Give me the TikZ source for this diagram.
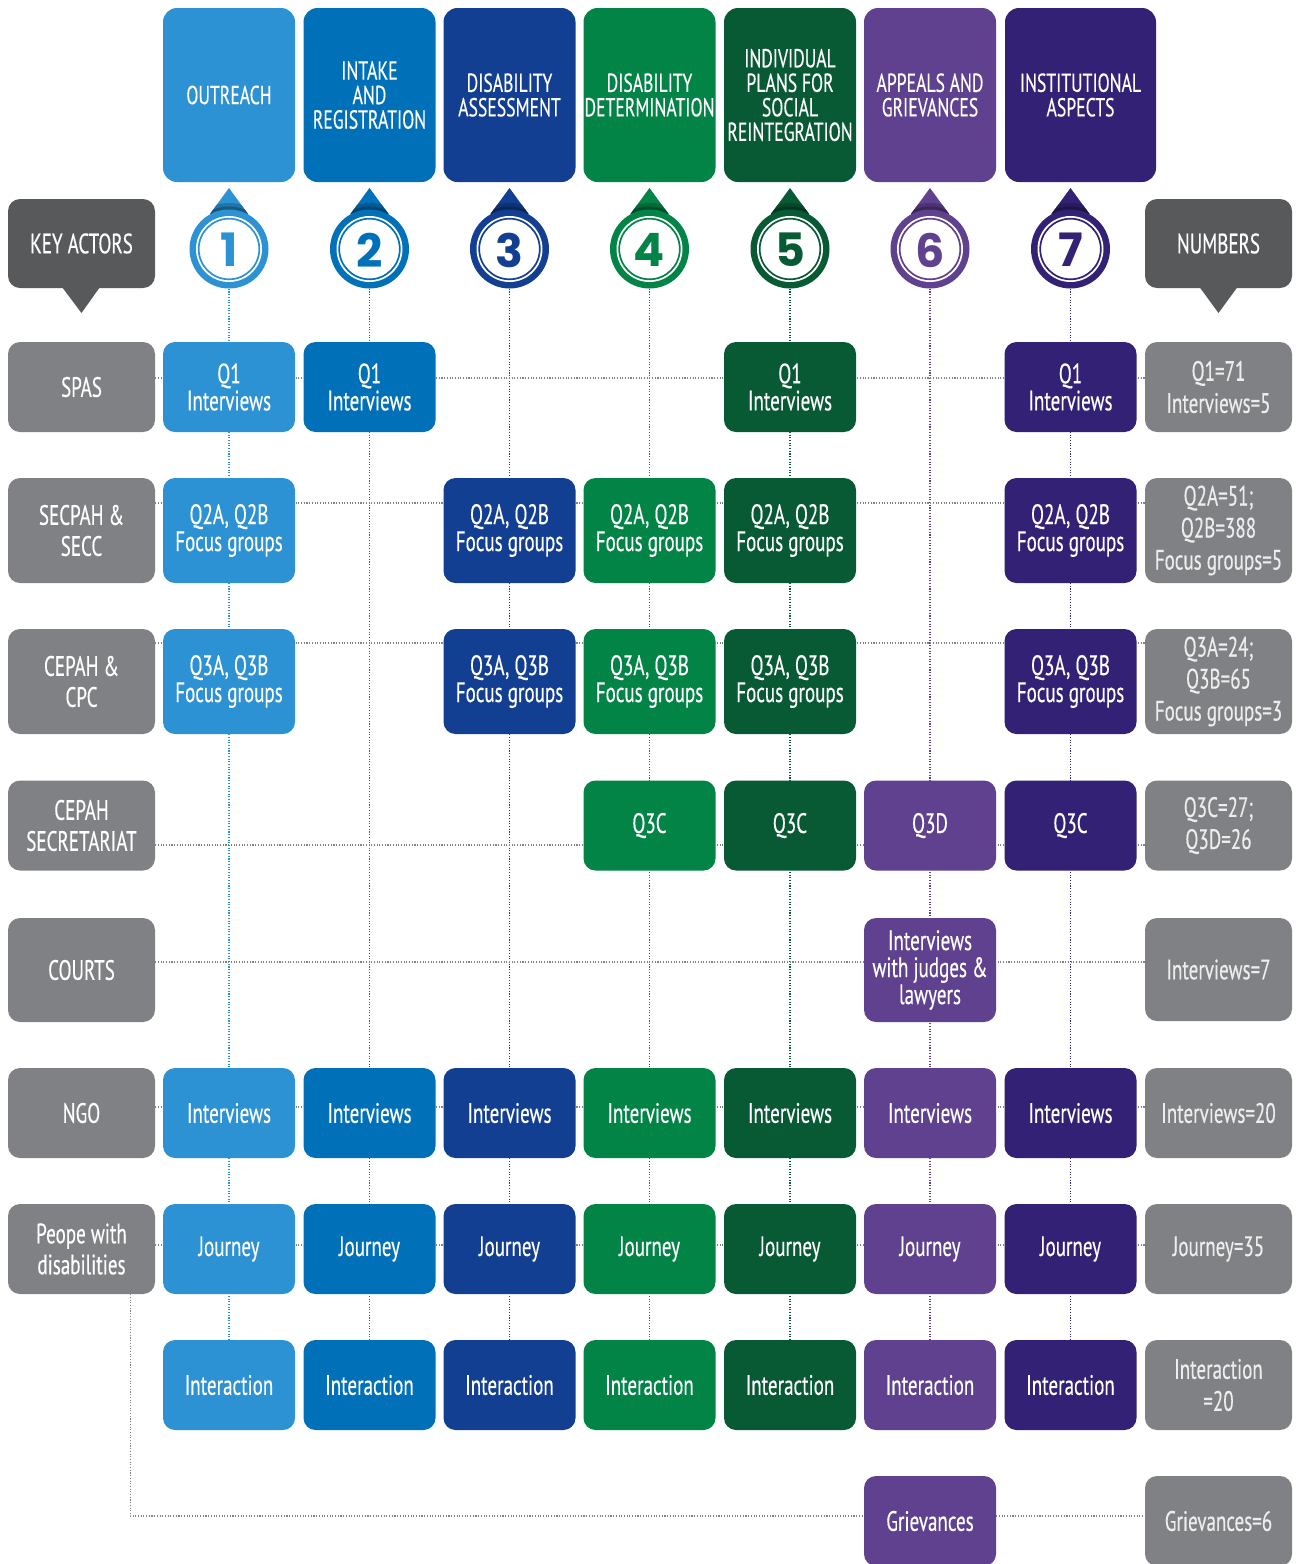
\documentclass[tikz,border=0pt]{standalone}
\usepackage{fontspec}
\setmainfont{PT Sans}[FakeStretch=0.68, FakeBold=0.35]
\newfontfamily\numfont{Poppins}
\usetikzlibrary{calc}
\pgfdeclarelayer{bg}
\pgfsetlayers{bg,main}

\definecolor{cA}{HTML}{2C92D3}
\definecolor{cB}{HTML}{0071B9}
\definecolor{cC}{HTML}{133F92}
\definecolor{cD}{HTML}{018446}
\definecolor{cE}{HTML}{085A35}
\definecolor{cF}{HTML}{5F418F}
\definecolor{cG}{HTML}{332175}
\definecolor{actor}{HTML}{808184}
\definecolor{callout}{HTML}{58595B}
\definecolor{numtext}{HTML}{EDEDED}

% step marker: pointer, double ring and digit
\newcommand\stepmarker[4]{%
  \begin{scope}
    \clip (#2,188) -- (#2+19,214) -- (#2-19,214) -- cycle;
    \fill[#3] (#2-20,185) rectangle (#2+20,216);
    \fill[#3!80!black] (#2,249) circle (46pt);
    \fill[#3!60!black] (#2,249) circle (42.5pt);
  \end{scope}
  \node[circle, fill=#3, minimum size=79pt, inner sep=0pt] (#1) at (#2,249) {};
  \fill[white] (#2,249) circle (33pt);
  \draw[#3, line width=1.7pt] (#2,249) circle (30.3pt);
  \node[text=#3, font=\numfont\bfseries\fontsize{46}{46}\selectfont, inner sep=0pt] (#1d) at (#2,250) {#4};
}

\begin{document}
\begin{tikzpicture}[x=1pt, y=-1pt,
  cell/.style={rounded corners=12pt, minimum width=132pt, minimum height=90pt,
    inner sep=0pt, align=center, text=white, font=\fontsize{28}{27}\selectfont},
  head/.style={rounded corners=14pt, minimum width=132pt, minimum height=174pt,
    inner sep=0pt, align=center, text=white, font=\fontsize{26}{24.5}\selectfont},
  actorbox/.style={cell, fill=actor, minimum width=147pt, font=\fontsize{28}{31}\selectfont},
  numbox/.style={cell, fill=actor, minimum width=147pt, text=numtext, font=\fontsize{28}{32}\selectfont},
  calloutbox/.style={cell, fill=callout, minimum width=147pt, minimum height=89pt},
  vline/.style={line width=1.1pt, dash pattern=on 1.1pt off 1.6pt},
  hline/.style={draw=actor, line width=1.1pt, dash pattern=on 1.1pt off 1.6pt},
]
\useasboundingbox (0,0) rectangle (1298,1564);

% ---- stage headers ----
\node[head, fill=cA] (hA) at (229,95) {OUTREACH};
\node[head, fill=cB] (hB) at (369.5,95) {INTAKE\\AND\\REGISTRATION};
\node[head, fill=cC] (hC) at (509.5,95) {DISABILITY\\ASSESSMENT};
\node[head, fill=cD] (hD) at (649.5,95) {DISABILITY\\DETERMINATION};
\node[head, fill=cE] (hE) at (790,95) {INDIVIDUAL\\PLANS FOR\\SOCIAL\\REINTEGRATION};
\node[head, fill=cF] (hF) at (930,95) {APPEALS AND\\GRIEVANCES};
\node[head, fill=cG, minimum width=151pt] (hG) at (1080.5,95) {INSTITUTIONAL\\ASPECTS};

% ---- numbered markers ----
\stepmarker{mA}{229}{cA}{1}
\stepmarker{mB}{369.5}{cB}{2}
\stepmarker{mC}{509.5}{cC}{3}
\stepmarker{mD}{649.5}{cD}{4}
\stepmarker{mE}{790}{cE}{5}
\stepmarker{mF}{930}{cF}{6}
\stepmarker{mG}{1070.5}{cG}{7}

% ---- callouts ----
\node[calloutbox] (keyactors) at (81.5,243.5) {KEY ACTORS};
\fill[callout] (62,287) -- (100,287) -- (81.5,313) -- cycle;
\node[calloutbox] (numbers) at (1218.5,243.5) {NUMBERS};
\fill[callout] (1199.5,287) -- (1237.5,287) -- (1218.5,313) -- cycle;

% ---- key actors ----
\node[actorbox] (aSPAS) at (81.5,387) {SPAS};
\node[actorbox, minimum height=105pt] (aSEC) at (81.5,530.5) {SECPAH \&\\SECC};
\node[actorbox, minimum height=105pt] (aCEP) at (81.5,681.5) {CEPAH \&\\CPC};
\node[actorbox] (aCES) at (81.5,825.5) {CEPAH\\SECRETARIAT};
\node[actorbox, minimum height=104pt] (aCRT) at (81.5,970) {COURTS};
\node[actorbox] (aNGO) at (81.5,1113) {NGO};
\node[actorbox] (aPWD) at (81.5,1249) {Peope with\\disabilities};

% ---- numbers ----
\node[numbox] (nSPAS) at (1218.5,387) {Q1=71\\Interviews=5};
\node[numbox, minimum height=105pt] (nSEC) at (1218.5,530.5) {Q2A=51;\\Q2B=388\\Focus groups=5};
\node[numbox, minimum height=105pt] (nCEP) at (1218.5,681.5) {Q3A=24;\\Q3B=65\\Focus groups=3};
\node[numbox] (nCES) at (1218.5,825.5) {Q3C=27;\\Q3D=26};
\node[numbox, minimum height=103pt] (nCRT) at (1218.5,969.5) {Interviews=7};
\node[numbox] (nNGO) at (1218.5,1113) {Interviews=20};
\node[numbox] (nPWD) at (1218.5,1249) {Journey=35};
\node[numbox] (nINT) at (1218.5,1385) {Interaction\\=20};
\node[numbox] (nGRV) at (1218.5,1521) {Grievances=6};

% ---- SPAS row ----
\node[cell, fill=cA] (sA) at (229,387) {Q1\\Interviews};
\node[cell, fill=cB] (sB) at (369.5,387) {Q1\\Interviews};
\node[cell, fill=cE] (sE) at (790,387) {Q1\\Interviews};
\node[cell, fill=cG] (sG) at (1070.5,387) {Q1\\Interviews};

% ---- SECPAH & SECC row ----
\foreach \c/\x in {A/229, C/509.5, D/649.5, E/790, G/1070.5}
  \node[cell, fill=c\c, minimum height=105pt] (q2\c) at (\x,530.5) {Q2A, Q2B\\Focus groups};

% ---- CEPAH & CPC row ----
\foreach \c/\x in {A/229, C/509.5, D/649.5, E/790, G/1070.5}
  \node[cell, fill=c\c, minimum height=105pt] (q3\c) at (\x,681.5) {Q3A, Q3B\\Focus groups};

% ---- CEPAH secretariat row ----
\node[cell, fill=cD] (xD) at (649.5,825.5) {Q3C};
\node[cell, fill=cE] (xE) at (790,825.5) {Q3C};
\node[cell, fill=cF] (xF) at (930,825.5) {Q3D};
\node[cell, fill=cG] (xG) at (1070.5,825.5) {Q3C};

% ---- courts row ----
\node[cell, fill=cF, minimum height=104pt] (cF) at (930,970) {Interviews\\with judges \&\\lawyers};

% ---- NGO, journey and interaction rows ----
\foreach \c/\x in {A/229, B/369.5, C/509.5, D/649.5, E/790, F/930, G/1070.5} {
  \node[cell, fill=c\c] (ngo\c) at (\x,1113) {Interviews};
  \node[cell, fill=c\c] (jr\c) at (\x,1249) {Journey};
  \node[cell, fill=c\c] (ia\c) at (\x,1385) {Interaction};
}

% ---- grievances ----
\node[cell, fill=cF] (gF) at (930,1521) {Grievances};

% ---- dotted guide lines behind the boxes ----
\begin{pgfonlayer}{bg}
  \foreach \c in {A,B,C,D,E,F,G}
    \draw[vline, draw=c\c] (m\c) -- (ia\c);
  \draw[hline] ($(aSPAS.east)+(0,-9)$) -- ($(nSPAS.west)+(0,-9)$);
  \draw[hline] ($(aSEC.east)+(0,-27.5)$) -- ($(nSEC.west)+(0,-27.5)$);
  \draw[hline] ($(aCEP.east)+(0,-38.5)$) -- ($(nCEP.west)+(0,-38.5)$);
  \draw[hline] ($(aCES.east)+(0,19.5)$) -- ($(nCES.west)+(0,19.5)$);
  \draw[hline] ($(aCRT.east)+(0,-8)$) -- ($(nCRT.west)+(0,-7.5)$);
  \draw[hline] ($(aNGO.east)+(0,-6)$) -- ($(nNGO.west)+(0,-6)$);
  \draw[hline] ($(aPWD.east)+(0,-4)$) -- ($(nPWD.west)+(0,-4)$);
  \draw[hline] ($(aPWD.south east)+(-25,0)$) |- ($(gF.west)+(0,-5)$);
  \draw[hline] ($(gF.east)+(0,-5)$) -- ($(nGRV.west)+(0,-5)$);
\end{pgfonlayer}
\end{tikzpicture}
\end{document}
